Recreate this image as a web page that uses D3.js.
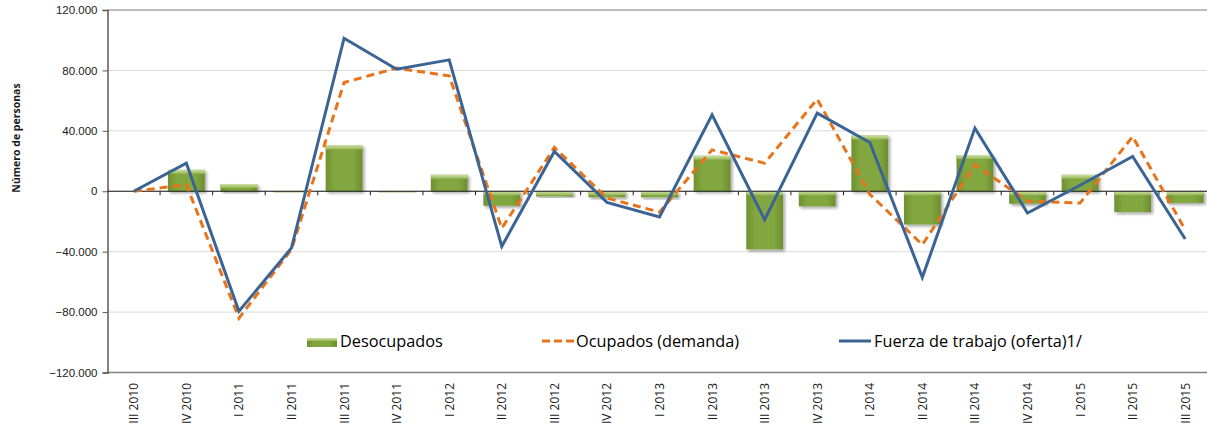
<!DOCTYPE html>
<html>
<head>
<meta charset="utf-8">
<script src="https://cdn.jsdelivr.net/npm/d3@7"></script>
<style>
    html, body { margin: 0; padding: 0; background: #fff; }
    svg { display: block; }
</style>
</head>
<body>
<div id="chart"></div>
<script>
'use strict';

// quarters on the x axis
const categories = ["III 2010", "IV 2010", "I 2011", "II 2011", "III 2011", "IV 2011", "I 2012",
    "II 2012", "III 2012", "IV 2012", "I 2013", "II 2013", "III 2013", "IV 2013", "I 2014",
    "II 2014", "III 2014", "IV 2014", "I 2015", "II 2015", "III 2015"];

// series (number of persons, change)
const desocupados = [0, 14200, 4800, -600, 30300, -600, 10900, -9600, -3400, -4000, -4000,
    23500, -38500, -10000, 36900, -22000, 24000, -8300, 10900, -13800, -7700];
const ocupados = [0, 4300, -84000, -38500, 72000, 81500, 76400, -24500, 29000, -4500, -13800,
    27400, 18600, 61000, -2000, -35400, 17500, -6500, -7800, 36200, -25500];
const fuerza = [0, 18600, -79500, -37500, 101300, 80800, 87000, -36500, 26300, -7400, -17000,
    50600, -18800, 51700, 32300, -57000, 41800, -14400, 4000, 23000, -31600];

const yTicks = [-120000, -80000, -40000, 0, 40000, 80000, 120000];
const legendLabels = ["Desocupados", "Ocupados (demanda)", "Fuerza de trabajo (oferta)1/"];

const W = 1207, H = 430;
const margin = { top: 10, left: 107.5, bottom: 57, right: -4.5 };

const svg = d3.select("#chart").append("svg")
    .attr("width", W)
    .attr("height", H);

const defs = svg.append("defs");

// bar body: darker edges, lighter middle
const barGrad = defs.append("linearGradient")
    .attr("id", "bar-grad")
    .attr("x1", "0").attr("x2", "1").attr("y1", "0").attr("y2", "0");
barGrad.append("stop").attr("offset", "0%").attr("stop-color", "#6f9131");
barGrad.append("stop").attr("offset", "25%").attr("stop-color", "#83a73f");
barGrad.append("stop").attr("offset", "75%").attr("stop-color", "#83a73f");
barGrad.append("stop").attr("offset", "100%").attr("stop-color", "#6c8d2f");

const capGrad = defs.append("linearGradient")
    .attr("id", "cap-grad")
    .attr("x1", "0").attr("x2", "0").attr("y1", "0").attr("y2", "1");
capGrad.append("stop").attr("offset", "0%").attr("stop-color", "#cfe0a6");
capGrad.append("stop").attr("offset", "100%").attr("stop-color", "#95b655");

defs.append("filter")
    .attr("id", "shadow")
    .attr("x", "-20%").attr("y", "-20%").attr("width", "150%").attr("height", "150%")
    .append("feDropShadow")
    .attr("dx", 2).attr("dy", 2)
    .attr("stdDeviation", 1.6)
    .attr("flood-color", "#000")
    .attr("flood-opacity", 0.35);

const x = d3.scaleBand()
    .domain(categories)
    .range([margin.left, W - margin.right])
    .paddingInner(0.3)
    .paddingOuter(0.15);

const xBand = d3.scaleBand()
    .domain(categories)
    .range([margin.left, W - margin.right]);

const y = d3.scaleLinear()
    .domain([-120000, 120000])
    .range([H - margin.bottom - 0.5, margin.top]);

const fmt = v => v === 0 ? "0" : d3.format(",")(v).replace(/,/g, ".");

// gridlines
svg.append("g")
    .selectAll("line")
    .data(yTicks)
    .join("line")
    .attr("x1", margin.left)
    .attr("x2", W)
    .attr("y1", d => y(d))
    .attr("y2", d => y(d))
    .attr("stroke", d => Math.abs(d) === 120000 ? (d > 0 ? "#a6a6a6" : "#808080") : "#d9d9d9")
    .attr("stroke-width", d => Math.abs(d) === 120000 ? 1.5 : 1);

// y axis
const yAxis = svg.append("g")
    .attr("transform", `translate(${margin.left},0)`)
    .call(d3.axisLeft(y).tickValues(yTicks).tickFormat(fmt).tickSize(5).tickPadding(5));
yAxis.select(".domain").attr("stroke", "#595959").attr("stroke-width", 1.5);
yAxis.selectAll(".tick line").attr("stroke", "#595959");
yAxis.selectAll("text")
    .attr("font-family", "Liberation Sans, Arial, sans-serif")
    .attr("font-size", 11.5)
    .attr("fill", "#1a1a1a");

// y title
svg.append("text")
    .attr("transform", `translate(19.5,138) rotate(-90)`)
    .attr("text-anchor", "middle")
    .attr("font-family", "Open Sans, sans-serif")
    .attr("font-weight", "bold")
    .attr("font-size", 10.5)
    .attr("fill", "#1a1a1a")
    .text("Número de personas");

// bars
const bars = svg.append("g")
    .selectAll("g")
    .data(desocupados.map((v, i) => ({ cat: categories[i], v })))
    .join("g")
    .attr("filter", "url(#shadow)");

bars.append("rect")
    .attr("x", d => x(d.cat))
    .attr("width", x.bandwidth())
    .attr("y", d => y(Math.max(0, d.v)))
    .attr("height", d => Math.abs(y(d.v) - y(0)))
    .attr("fill", "url(#bar-grad)");

bars.append("rect")
    .attr("x", d => x(d.cat))
    .attr("width", x.bandwidth())
    .attr("y", d => y(Math.max(0, d.v)))
    .attr("height", d => Math.min(4, Math.abs(y(d.v) - y(0))))
    .attr("fill", "url(#cap-grad)");

// x axis at zero
const xAxis = svg.append("g")
    .attr("transform", `translate(0,${y(0)})`);
xAxis.append("line")
    .attr("x1", margin.left).attr("x2", W)
    .attr("stroke", "#1a1a1a").attr("stroke-width", 1.2);
xAxis.selectAll(".tk")
    .data(categories)
    .join("line")
    .attr("class", "tk")
    .attr("x1", d => xBand(d) + xBand.bandwidth())
    .attr("x2", d => xBand(d) + xBand.bandwidth())
    .attr("y1", 0).attr("y2", 4)
    .attr("stroke", "#1a1a1a");

// category labels along the bottom
svg.append("g")
    .selectAll("text")
    .data(categories)
    .join("text")
    .attr("transform", d => `translate(${xBand(d) + xBand.bandwidth() / 2 + 4.5},${H - margin.bottom + 10}) rotate(-90)`)
    .attr("text-anchor", "end")
    .attr("font-family", "Open Sans, sans-serif")
    .attr("font-size", 12)
    .attr("fill", "#1a1a1a")
    .text(d => d);

// lines
const line = d3.line()
    .x((d, i) => xBand(categories[i]) + xBand.bandwidth() / 2)
    .y(d => y(d));

svg.append("path")
    .datum(ocupados)
    .attr("d", line)
    .attr("fill", "none")
    .attr("stroke", "#e8731a")
    .attr("stroke-width", 3)
    .attr("stroke-dasharray", "8,5");

svg.append("path")
    .datum(fuerza)
    .attr("d", line)
    .attr("fill", "none")
    .attr("stroke", "#3b6494")
    .attr("stroke-width", 3)
    .attr("stroke-linejoin", "miter");

// legend
const legendX = [307, 542, 839];
const legend = svg.append("g")
    .attr("font-family", "Open Sans, sans-serif")
    .attr("font-size", 16.3)
    .attr("fill", "#000");

legend.append("rect")
    .attr("x", legendX[0]).attr("y", 338)
    .attr("width", 30).attr("height", 9)
    .attr("fill", "url(#bar-grad)");
legend.append("rect")
    .attr("x", legendX[0]).attr("y", 338)
    .attr("width", 30).attr("height", 3)
    .attr("fill", "url(#cap-grad)");
legend.append("line")
    .attr("x1", legendX[1]).attr("x2", legendX[1] + 32)
    .attr("y1", 341).attr("y2", 341)
    .attr("stroke", "#e8731a").attr("stroke-width", 3)
    .attr("stroke-dasharray", "8,4");
legend.append("line")
    .attr("x1", legendX[2]).attr("x2", legendX[2] + 32)
    .attr("y1", 341).attr("y2", 341)
    .attr("stroke", "#3b6494").attr("stroke-width", 3);

legend.selectAll("text")
    .data(legendLabels)
    .join("text")
    .attr("x", (d, i) => legendX[i] + [33, 34, 35][i])
    .attr("y", 347)
    .text(d => d);
</script>
</body>
</html>
